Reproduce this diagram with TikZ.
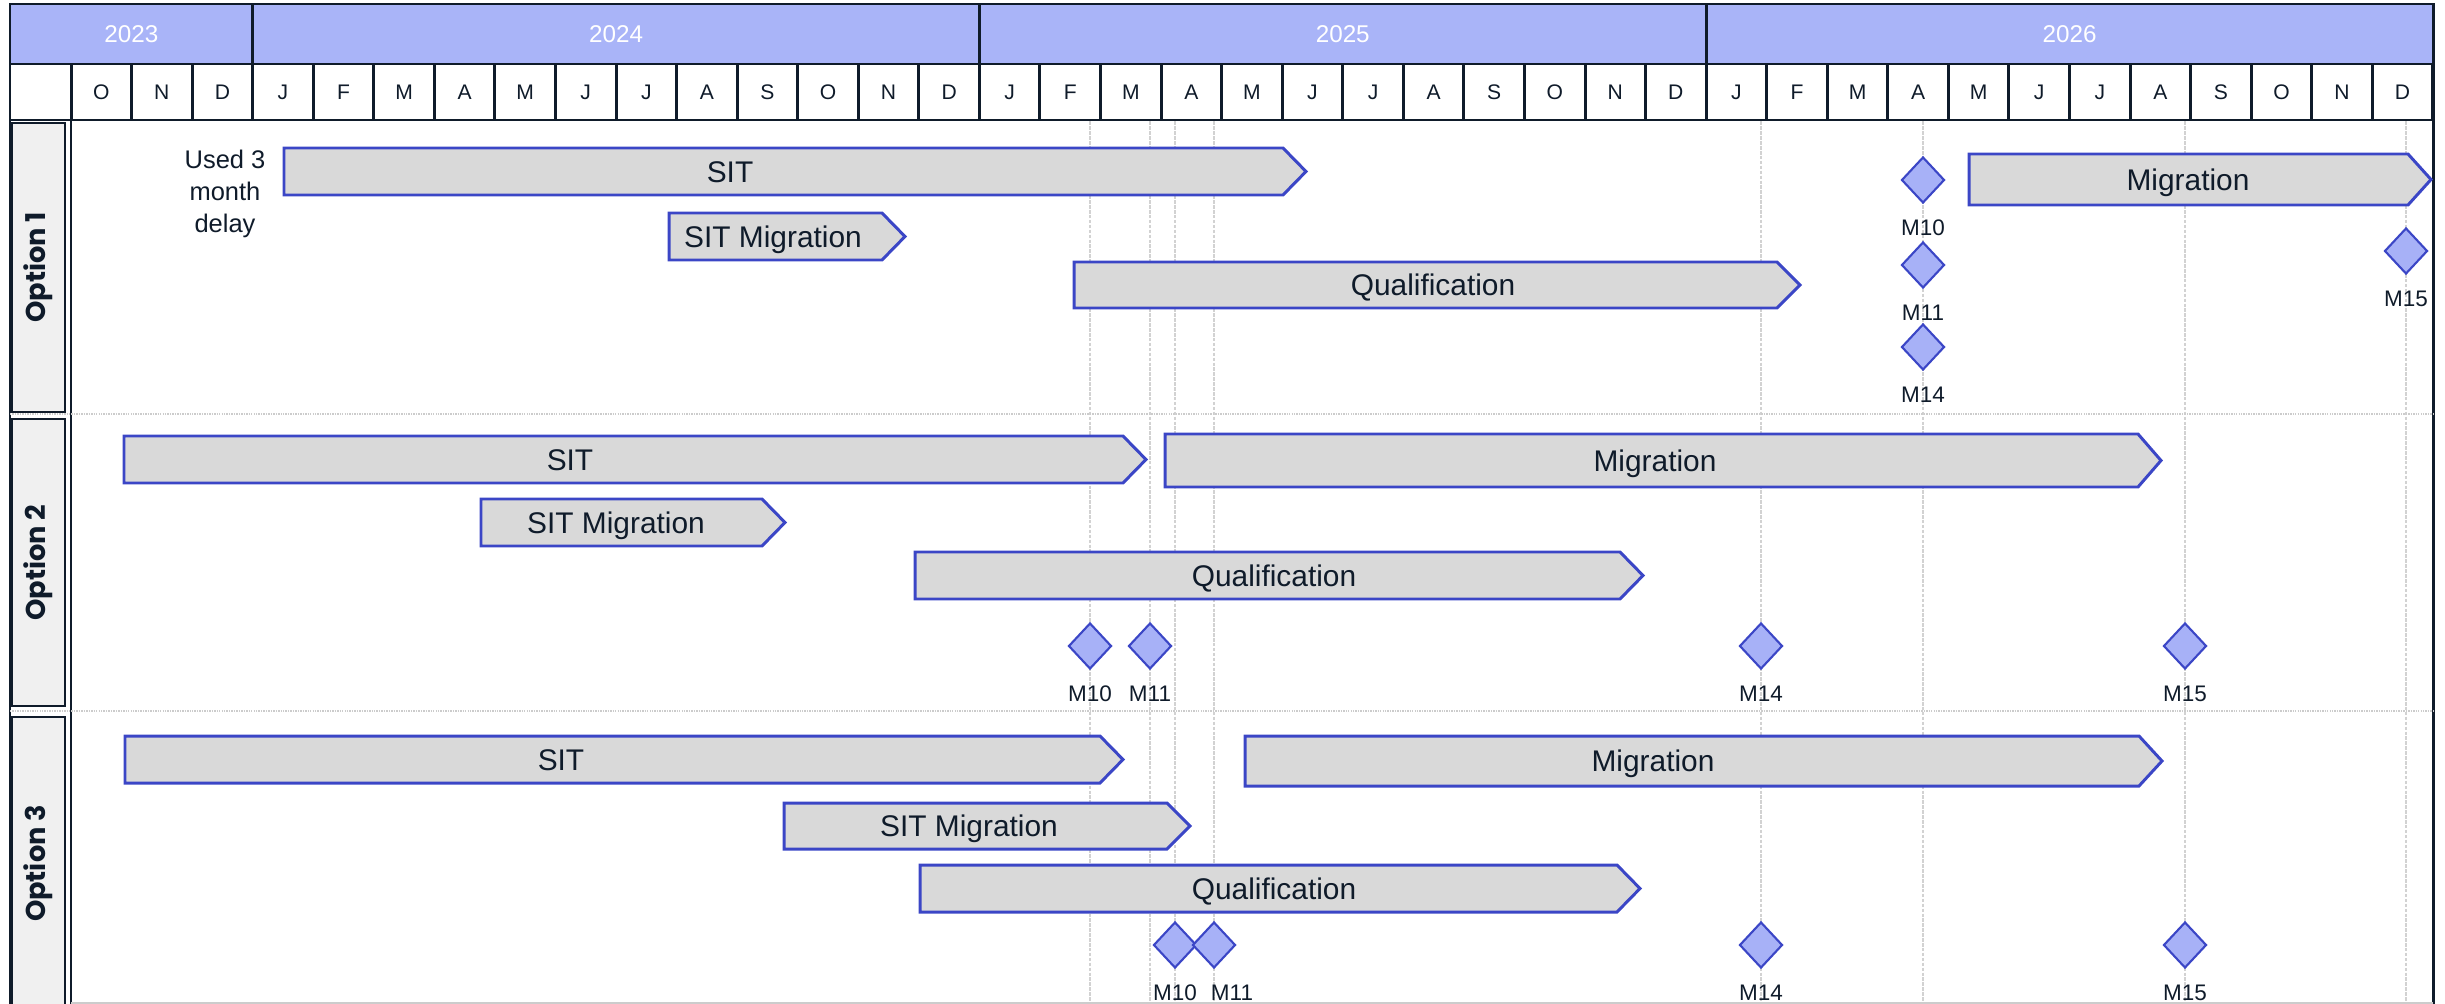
\documentclass[tikz,border=0pt]{standalone}
\usepackage{fontspec}
\setmainfont{Liberation Sans}
\newfontfamily\optfont{Poppins}
\usetikzlibrary{shapes.geometric}
\definecolor{yearblue}{HTML}{A9B4F8}
\definecolor{gridnavy}{HTML}{0F1B2A}
\definecolor{barfill}{HTML}{D9D9D9}
\definecolor{barline}{HTML}{3B46C6}
\definecolor{msfill}{HTML}{A7B1F7}
\definecolor{optgrey}{HTML}{F0F0F0}
\definecolor{guidegrey}{HTML}{D2D2D2}
\pgfdeclarelayer{back}
\pgfsetlayers{back,main}
% name, start, end, top, bottom, text x, text
\newcommand{\drawtask}[7]{%
  \draw[taskbar] (#2,#4) -- (#3,#4) -- ({#3+23},{(#4+#5)/2}) -- (#3,#5) -- (#2,#5) -- cycle;
  \node[tasklabel] (#1) at (#6,{(#4+#5)/2}) {#7};
}

\begin{document}
\begin{tikzpicture}[x=0.02cm,y=-0.02cm,
  gridline/.style={draw=gridnavy,line width=1.7pt},
  yearcell/.style={gridline,fill=yearblue,minimum height=1.2cm,inner sep=0,text=white,font=\fontsize{13.8}{16}\selectfont},
  monthcell/.style={gridline,fill=white,minimum width=1.2112cm,minimum height=1.12cm,inner sep=0,text=gridnavy,text height=8.6pt,text depth=0pt,font=\fontsize{12}{14}\selectfont},
  optbox/.style={draw=gridnavy,line width=0.8pt,fill=optgrey,rotate=90,minimum height=1.06cm,inner sep=0,text=gridnavy,font=\optfont\bfseries\fontsize{15.5}{18}\selectfont},
  taskbar/.style={draw=barline,fill=barfill,line width=1.7pt},
  tasklabel/.style={inner sep=0,text=gridnavy,text height=12.2pt,text depth=0pt,font=\fontsize{17}{20}\selectfont},
  milestone/.style={diamond,draw=barline,fill=msfill,line width=1.2pt,inner sep=0,minimum width=0.86cm,minimum height=0.92cm},
  mslabel/.style={inner sep=0,yshift=-8.5pt,text=gridnavy,text height=9.2pt,text depth=0pt,font=\fontsize{12.8}{15}\selectfont},
  guide/.style={draw=guidegrey,line width=0.8pt,dash pattern=on 2pt off 0.8pt},
  sepline/.style={draw=gray!40,line width=1pt,dash pattern=on 0.8pt off 0.6pt}]
  \useasboundingbox (0,0) rectangle (2445,1004);
  \coordinate (bottom) at (0,1004);

  % header
  \foreach \yr/\a/\b in {2023/10/252.7,2024/252.7/979.4,2025/979.4/1706.1,2026/1706.1/2433}
    \node[yearcell,minimum width={(\b-\a)*0.02cm}] (y\yr) at ({(\a+\b)/2},34) {\yr};
  \node[gridline,minimum width=1.22cm,minimum height=1.12cm,inner sep=0] (corner) at (40.5,92) {};
  \foreach \mon [count=\i from 0] in {O,N,D,J,F,M,A,M,J,J,A,S,O,N,D,J,F,M,A,M,J,J,A,S,O,N,D,J,F,M,A,M,J,J,A,S,O,N,D}
    \node[monthcell] (m\i) at ({71+(\i+0.5)*60.56},92) {\mon};

  \draw[gridline] (10,4) -- (10,1010);
  \draw[gridline] (2433,4) -- (2433,1010);
  \draw[gridline] (71,120) -- (71,1010);
  \draw[gray!40,line width=1pt] (71,1003) -- (2433,1003);

  \node[optbox,minimum width=5.78cm] (opt1) at (38.5,267.5) {Option 1};
  \node[optbox,minimum width=5.74cm] (opt2) at (38.5,562.5) {Option 2};
  \node[optbox,minimum width=5.86cm] (opt3) at (38.5,863.5) {Option 3};
  \draw[sepline] (10,414) -- (2433,414);
  \draw[sepline] (10,711) -- (2433,711);

  % option 1
  \node[align=center,inner sep=0,text=gridnavy,font=\fontsize{14.5}{18.2}\selectfont] (delay) at (225,194) {Used 3\\month\\delay};
  \drawtask{o1sit}{284}{1283}{148}{195}{730}{SIT}
  \drawtask{o1sitmig}{669}{882}{213}{260}{773}{SIT Migration}
  \drawtask{o1qual}{1074}{1777}{262}{308}{1433}{Qualification}
  \drawtask{o1mig}{1969}{2408}{154}{205}{2188}{Migration}
  \node[milestone,label={[mslabel]below:M10}] (o1m10) at (1923,180) {};
  \node[milestone,label={[mslabel]below:M11}] (o1m11) at (1923,265) {};
  \node[milestone,label={[mslabel]below:M14}] (o1m14) at (1923,347) {};
  \node[milestone,label={[mslabel]below:M15}] (o1m15) at (2406,251) {};

  % option 2
  \drawtask{o2sit}{124}{1123}{436}{483}{570}{SIT}
  \drawtask{o2sitmig}{481}{762}{499}{546}{616}{SIT Migration}
  \drawtask{o2mig}{1165}{2138}{434}{487}{1655}{Migration}
  \drawtask{o2qual}{915}{1620}{552}{599}{1274}{Qualification}
  \node[milestone,label={[mslabel]below:M10}] (o2m10) at (1090,646) {};
  \node[milestone,label={[mslabel]below:M11}] (o2m11) at (1150,646) {};
  \node[milestone,label={[mslabel]below:M14}] (o2m14) at (1761,646) {};
  \node[milestone,label={[mslabel]below:M15}] (o2m15) at (2185,646) {};

  % option 3
  \drawtask{o3sit}{125}{1100}{736}{783}{561}{SIT}
  \drawtask{o3sitmig}{784}{1167}{803}{849}{969}{SIT Migration}
  \drawtask{o3qual}{920}{1617}{865}{912}{1274}{Qualification}
  \drawtask{o3mig}{1245}{2139}{736}{786}{1653}{Migration}
  \node[milestone,label={[mslabel]below:M10}] (o3m10) at (1175,945) {};
  \node[milestone,label={[mslabel,xshift=0.36cm]below:M11}] (o3m11) at (1214,945) {};
  \node[milestone,label={[mslabel]below:M14}] (o3m14) at (1761,945) {};
  \node[milestone,label={[mslabel]below:M15}] (o3m15) at (2185,945) {};

  \begin{pgfonlayer}{back}
    \foreach \ms in {o2m10,o2m11,o3m10,o3m11,o2m14,o1m10,o2m15,o1m15}
      \draw[guide] (\ms |- m0.south) -- (\ms |- bottom);
  \end{pgfonlayer}
\end{tikzpicture}
\end{document}
